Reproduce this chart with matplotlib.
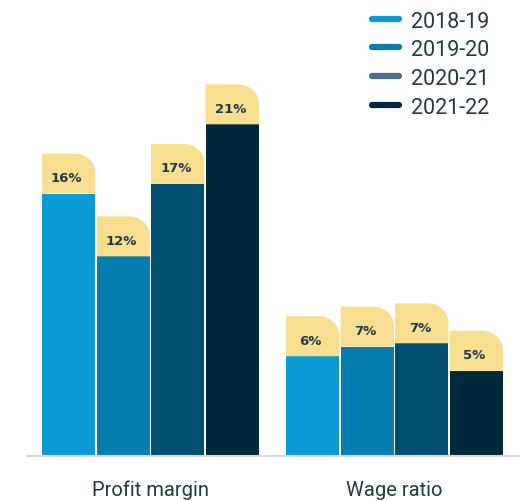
import matplotlib
matplotlib.use("Agg")
import matplotlib.pyplot as plt
from matplotlib.path import Path
from matplotlib.patches import PathPatch
from matplotlib.lines import Line2D
import numpy as np

categories = ["Profit margin", "Wage ratio"]
series = ["2018-19", "2019-20", "2020-21", "2021-22"]
values = {
    "2018-19": [16.3, 6.2],
    "2019-20": [12.4, 6.8],
    "2020-21": [16.9, 7.0],
    "2021-22": [20.6, 5.3],
}
labels = {
    "2018-19": ["16%", "6%"],
    "2019-20": ["12%", "7%"],
    "2020-21": ["17%", "7%"],
    "2021-22": ["21%", "5%"],
}
bar_colors = ["#0A9BD7", "#067DB1", "#02506F", "#002A3B"]
legend_colors = ["#0A9BD7", "#067DB1", "#4D6F8E", "#002A3B"]
tab_color = "#F8DF8F"
text_color = "#1E3A4B"

W, H = 520, 502
fig = plt.figure(figsize=(W / 100, H / 100), dpi=100)
ax_left, ax_right, ax_bottom, ax_top = 27, 520, 457, 0
ax = fig.add_axes([ax_left / W, (H - ax_bottom) / H,
                   (ax_right - ax_left) / W, (ax_bottom - ax_top) / H])

group_px = 244.0
px_per_unit_y = 16.1
ax.set_xlim(-(150.5 - ax_left) / group_px, (ax_right - 150.5) / group_px)
ax.set_ylim(0, (ax_bottom - ax_top) / px_per_unit_y)

pitch = 54.5 / group_px
width = 53.3 / group_px
tab_h = 40 / px_per_unit_y
rx = 21 / group_px
ry = 19 / px_per_unit_y
k = 0.5523

x = np.arange(len(categories))
for i, s in enumerate(series):
    xs = x + (i - 1.5) * pitch
    ax.bar(xs, values[s], width=width, color=bar_colors[i], zorder=2)
    for xc, v, lab in zip(xs, values[s], labels[s]):
        l, r = xc - width / 2, xc + width / 2
        b, t = v, v + tab_h
        verts = [(l, b), (l, t), (r - rx, t),
                 (r - rx + k * rx, t), (r, t - ry + k * ry), (r, t - ry),
                 (r, b), (l, b)]
        codes = [Path.MOVETO, Path.LINETO, Path.LINETO,
                 Path.CURVE4, Path.CURVE4, Path.CURVE4,
                 Path.LINETO, Path.CLOSEPOLY]
        ax.add_patch(PathPatch(Path(verts, codes), facecolor=tab_color,
                               edgecolor="none", zorder=2))
        ax.text(xc - 0.008, b + tab_h * 0.4, lab, ha="center", va="center",
                fontsize=9.5, fontweight="bold", color=text_color,
                family="DejaVu Sans", zorder=3)

for sp in ["top", "right", "left"]:
    ax.spines[sp].set_visible(False)
ax.spines["bottom"].set_color("#D9D9D9")
ax.spines["bottom"].set_linewidth(1.5)
ax.set_yticks([])
ax.set_xticks(x)
ax.set_xticklabels(categories, fontsize=14.5, color=text_color, family="Roboto")
ax.tick_params(axis="x", length=0, pad=17)

# legend drawn in figure pixel positions
row_y = [20, 48, 77, 106]
for c, s, yy in zip(legend_colors, series, row_y):
    fy = 1 - yy / H
    fig.add_artist(Line2D([372 / W, 399 / W], [fy, fy], color=c, lw=4.5,
                          solid_capstyle="round", transform=fig.transFigure))
    fig.text(411 / W, fy, s, ha="left", va="center_baseline", fontsize=15.5,
             color=text_color, family="Roboto")

fig.savefig("out.png", dpi=100)
